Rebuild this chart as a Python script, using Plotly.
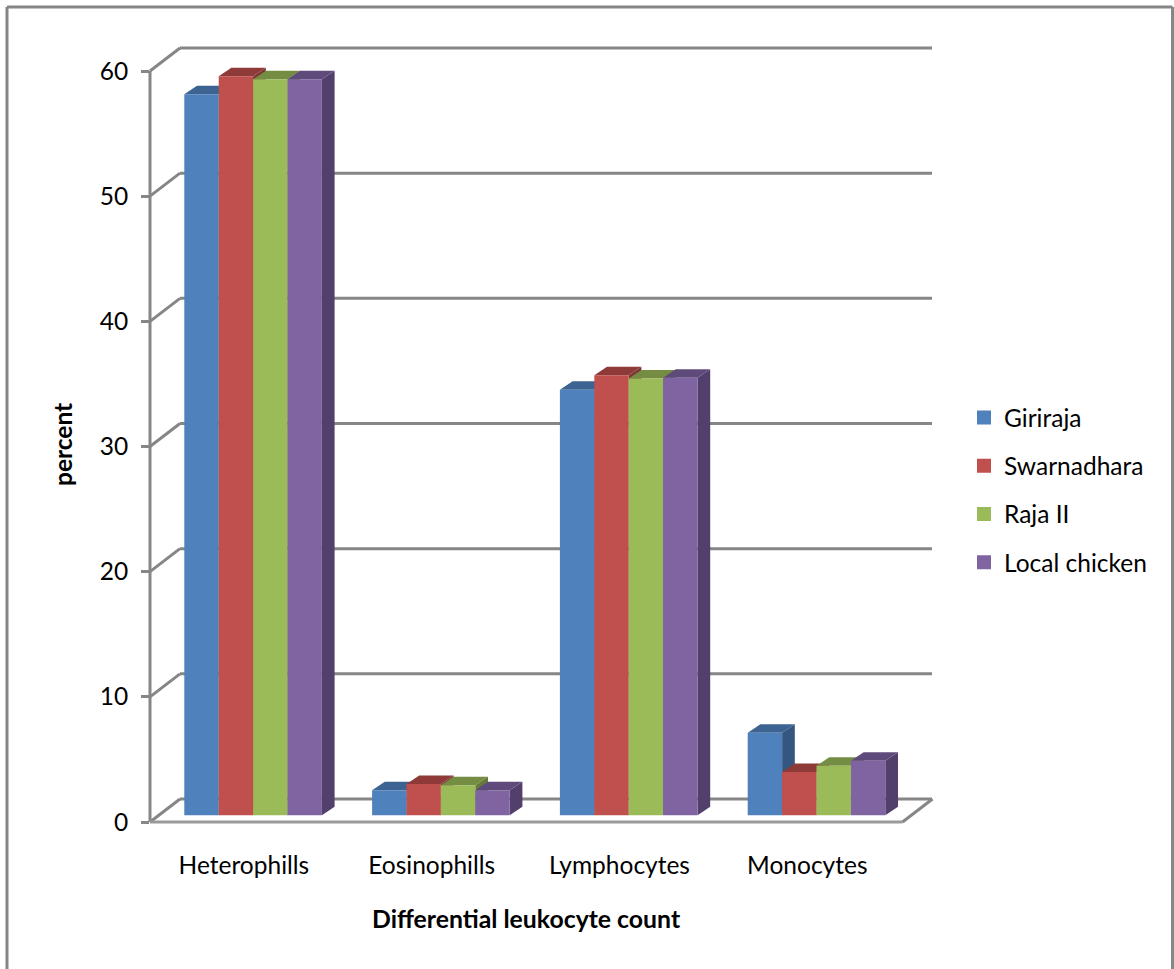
import plotly.graph_objects as go

categories = ["Heterophills", "Eosinophills", "Lymphocytes", "Monocytes"]
giriraja = [57.6, 2.0, 34.0, 6.6]
swarnadhara = [59.05, 2.5, 35.15, 3.45]
raja_ii = [58.8, 2.4, 34.9, 3.95]
local_chicken = [58.8, 2.0, 34.95, 4.35]
y_ticks = [0, 10, 20, 30, 40, 50, 60]
series_names = ["Giriraja", "Swarnadhara", "Raja II", "Local chicken"]
series_values = [giriraja, swarnadhara, raja_ii, local_chicken]
front_colors = ["#4F81BD", "#C0504D", "#9BBB59", "#8064A2"]
top_colors = ["#3C6391", "#8E3A38", "#758C43", "#5F4B7B"]
side_colors = ["#355680", "#7E3533", "#66793A", "#533F6B"]

W, H = 1174, 969
L, R, T, B = 150, 932, 45, 822      # plot area in page pixels
PX_X = 187.8                        # pixels per category
PX_Y = 751 / 60                     # pixels per percent
x0 = -0.5
x1 = x0 + (R - L) / PX_X
y1 = (B - T) / PX_Y
GRID = "#868686"


def ux(px):
    return px / PX_X


def uy(px):
    return px / PX_Y


def xp(px):
    return (px - L) / (R - L)


def yp(px):
    return (B - px) / (B - T)


def data_x(v):
    return (v - x0) / (x1 - x0)


def data_y(v):
    return v / y1


wall_dx, wall_dy = ux(30), uy(23)
bar_w = ux(34.4)
bar_line = 2
bar_shift = ux(9.2)
bar_base = uy(6.7)
depth_dx, depth_dy = ux(12.7), uy(8.5)
front_end = x0 + ux(752.5)

shapes = []


def page_line(xa, ya, xb, yb, width=3, color=GRID):
    shapes.append(dict(type="line", xref="paper", yref="paper", x0=xa, y0=ya, x1=xb, y1=yb,
                       line=dict(color=color, width=width), layer="below"))


def line(xa, ya, xb, yb, width=3, color=GRID):
    page_line(data_x(xa), data_y(ya), data_x(xb), data_y(yb), width, color)


# chart frame
for a, b, c, d in [(7, 969, 7, 7), (7, 7, 1172.5, 7), (1172.5, 7, 1172.5, 969)]:
    page_line(xp(a), yp(b), xp(c), yp(d))

# walls and gridlines
for t in y_ticks:
    line(x0, t, x0 + wall_dx, t + wall_dy)
    line(x0 + wall_dx, t + wall_dy, x1, t + wall_dy)
line(x0, 0, x0, 60)
line(x0, 0, front_end, 0, color="#9A9A9A")
line(front_end, 0, front_end + wall_dx, wall_dy)


def poly(points, color):
    path = "M" + "L".join(f"{a},{b}" for a, b in points) + "Z"
    shapes.append(dict(type="path", path=path, xref="x", yref="y", fillcolor=color,
                       line=dict(width=0), layer="below"))


# side and top faces of the bars, left to right so that nearer faces cover earlier ones
for c in range(len(categories)):
    for s, values in enumerate(series_values):
        left = c + bar_shift + (s - 2) * bar_w
        right = left + bar_w
        top = bar_base + values[c]
        poly([(right, bar_base), (right + depth_dx, bar_base + depth_dy),
              (right + depth_dx, top + depth_dy), (right, top)], side_colors[s])
        poly([(left, top), (left + depth_dx, top + depth_dy),
              (right + depth_dx, top + depth_dy), (right, top)], top_colors[s])

fig = go.Figure()
for s, (name, values) in enumerate(zip(series_names, series_values)):
    fig.add_trace(go.Bar(
        name=name,
        x=[c + bar_shift + (s - 1.5) * bar_w for c in range(len(categories))],
        y=[v - uy(bar_line) for v in values],
        base=bar_base + uy(bar_line / 2),
        width=bar_w - ux(bar_line),
        marker=dict(color=front_colors[s], line=dict(color=front_colors[s], width=bar_line)),
        legendgroup=name,
    ))

FONT = "Lato, Carlito, Calibri, sans-serif"
fig.update_layout(
    width=W, height=H, autosize=False,
    margin=dict(l=L, r=W - R, t=T, b=H - B, pad=0),
    paper_bgcolor="white", plot_bgcolor="rgba(0,0,0,0)",
    font=dict(family=FONT, size=24.5, color="#000000"),
    barmode="overlay",
    showlegend=True,
    shapes=shapes,
    xaxis=dict(range=[x0, x1], tickmode="array", tickvals=list(range(len(categories))),
               ticktext=categories, showgrid=False, zeroline=False, showline=False,
               ticks="", ticklabelstandoff=26, tickfont=dict(size=24.5)),
    yaxis=dict(range=[0, y1], tickmode="array", tickvals=y_ticks, showgrid=False, zeroline=False,
               showline=False, ticks="outside", ticklen=8, tickwidth=3, tickcolor=GRID,
               ticklabelstandoff=8, tickfont=dict(size=24.5)),
    legend=dict(x=xp(964), xanchor="left", y=yp(395), yanchor="top", bgcolor="rgba(0,0,0,0)",
                tracegroupgap=13.4, font=dict(size=24.5), traceorder="grouped", itemclick=False,
                itemdoubleclick=False),
    annotations=[
        dict(text="<b>Differential leukocyte count</b>", xref="paper", yref="paper",
             x=xp(526), y=yp(919), xanchor="center", yanchor="middle", showarrow=False,
             font=dict(size=24.8)),
        dict(text="<b>percent</b>", xref="paper", yref="paper", x=xp(62), y=yp(445),
             xanchor="center", yanchor="middle", textangle=-90, showarrow=False,
             font=dict(size=24.5)),
    ],
)

fig.write_html("out.html", post_script="document.body.style.margin='0';",
               config={"displayModeBar": False})
